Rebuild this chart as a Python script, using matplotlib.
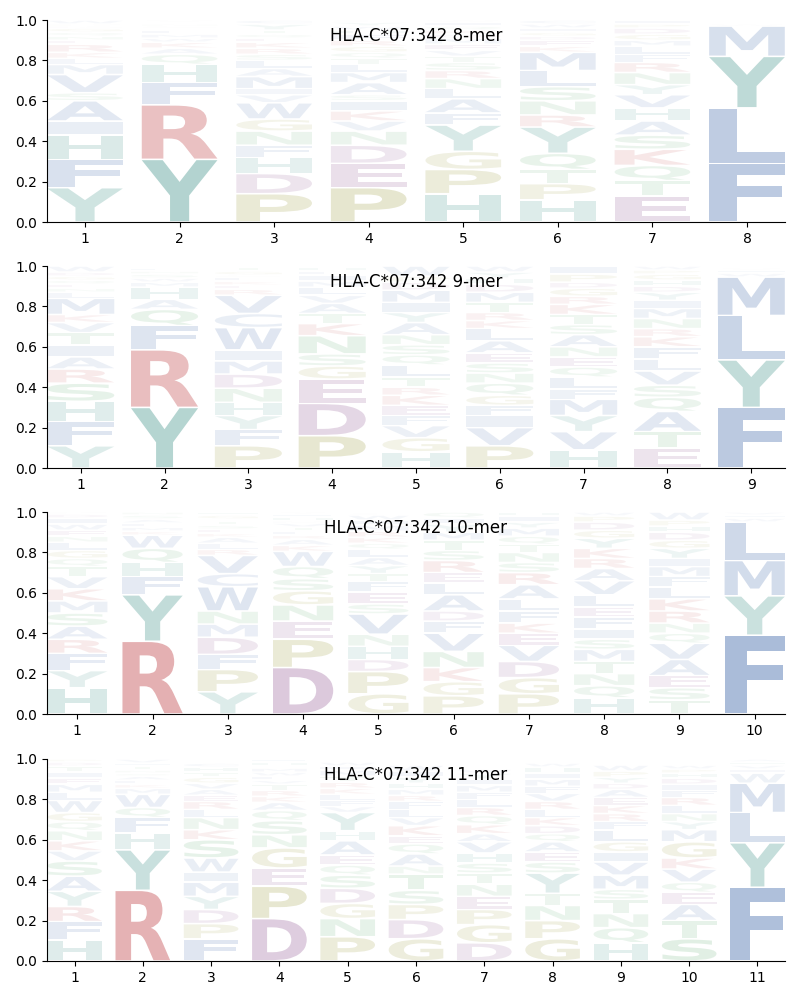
import matplotlib
matplotlib.use("Agg")
import matplotlib.pyplot as plt
from matplotlib.textpath import TextPath
from matplotlib.font_manager import FontProperties
from matplotlib.patches import PathPatch
from matplotlib.transforms import Affine2D

allele = "HLA-C*07:342"

# letters per position (bottom to top) and their heights
letters_8 = ["YFHIASVMLKRENQGDPW", "YRFHQAKWMLISNTV", "PDHFNGWVIMALSRKEQTYC",
             "PEDNVKISAMLTQGRFHWYC", "HPGYFALNRSTVEMDKQIW", "HPTQYRNSLMKEDGIWC",
             "ETQKSAHVYNRFLMGDPI", "FLYMWIVH"]
heights_8 = [
    [.17, .14, .12, .07, .10, .04, .09, .05, .03, .03, .04, .02, .02, .02, .02, .01, .01, .02],
    [.31, .27, .11, .09, .05, .03, .03, .02, .02, .02, .01, .01, .01, .01, .01],
    [.14, .10, .08, .06, .07, .06, .08, .04, .03, .06, .04, .04, .03, .03, .03, .02, .02, .02, .03, .02],
    [.17, .12, .09, .07, .05, .05, .05, .03, .06, .05, .04, .03, .03, .03, .03, .03, .02, .02, .02, .01],
    [.14, .12, .09, .13, .06, .07, .05, .05, .04, .04, .03, .03, .03, .03, .02, .02, .02, .02, .01],
    [.11, .08, .07, .08, .13, .06, .07, .07, .08, .09, .03, .03, .02, .02, .02, .02, .02],
    [.13, .075, .075, .08, .07, .07, .065, .065, .05, .06, .05, .04, .04, .03, .03, .03, .02, .02],
    [.29, .275, .255, .15, .01, .01, .005, .005],
]

letters_9 = ["YFHSRAITVKMLNEQGDW", "YRFQAHMWSNLT", "PFYHNDMIWCVREKLSGT",
             "PDEGSNKTAVLMIFHW", "HGVFEKRTLQSNAYIMDPW", "PVIFGQNSEALKRTMDHYW",
             "HVYMFLQENASTKRGDPI", "ETAQSVLFKRNMIYDHGPW", "FYLMWIVH"]
heights_9 = [
    [.11, .12, .10, .09, .07, .06, .06, .06, .05, .04, .08, .03, .02, .02, .02, .02, .02, .03],
    [.30, .285, .12, .08, .05, .06, .025, .02, .02, .015, .015, .01],
    [.11, .08, .07, .065, .07, .07, .065, .055, .11, .07, .09, .03, .02, .02, .02, .01, .02, .02],
    [.16, .16, .12, .065, .06, .09, .06, .05, .05, .04, .04, .03, .03, .02, .02, .005],
    [.08, .07, .06, .05, .05, .05, .04, .05, .06, .05, .05, .05, .06, .05, .05, .06, .04, .03, .05],
    [.11, .09, .06, .05, .05, .06, .05, .05, .05, .06, .06, .04, .04, .05, .05, .04, .03, .03, .03],
    [.09, .09, .08, .08, .05, .06, .05, .05, .05, .06, .05, .05, .05, .04, .04, .03, .04, .04],
    [.10, .08, .10, .07, .06, .07, .06, .06, .05, .04, .05, .05, .04, .04, .03, .03, .03, .02, .02],
    [.30, .235, .22, .19, .02, .015, .01, .01],
]

letters_10 = ["HYFRASMKVTQGLNEWIDP", "RYFHQWKMLASN", "YPFDMNWCVRLAKESTIGH",
              "DPENGSQWKARLTVMHFY", "GPDHNVSEFTYALQKRMIWC", "PGKNVFDALERSTMYIQ",
              "PGDVEKFLARSNTQMYIH", "HQNTMSIFELVARKYGDPW", "TSEAVQNRKLFMIYGDHPW",
              "FYMLWIV"]
heights_10 = [
    [.13, .085, .085, .07, .065, .065, .06, .06, .06, .05, .04, .04, .04, .03, .03, .03, .03, .02, .01],
    [.36, .23, .09, .07, .07, .065, .02, .02, .02, .02, .02, .015],
    [.11, .11, .075, .085, .065, .065, .12, .065, .09, .03, .03, .03, .02, .02, .02, .02, .01, .02, .015],
    [.23, .14, .09, .08, .07, .06, .06, .075, .03, .03, .02, .02, .02, .02, .01, .02, .015, .01],
    [.10, .11, .06, .065, .06, .10, .05, .06, .05, .04, .04, .04, .04, .03, .03, .03, .03, .025, .025, .01],
    [.09, .07, .07, .08, .09, .06, .05, .08, .06, .05, .06, .05, .05, .04, .04, .03, .03],
    [.10, .08, .08, .08, .06, .05, .06, .06, .07, .06, .05, .05, .04, .04, .04, .03, .03, .02],
    [.08, .06, .06, .06, .06, .05, .05, .06, .05, .06, .07, .06, .05, .05, .05, .04, .04, .03, .02],
    [.07, .06, .06, .08, .08, .05, .05, .06, .06, .06, .05, .05, .04, .05, .04, .04, .03, .03, .04],
    [.39, .195, .175, .19, .02, .015, .015],
]

letters_11 = ["HFRYASVKNQGWLMEITDP", "RYHFQWMKLASNTIV", "FPDYMIWSKNLREAVGTHC",
              "DPEGNSQAKRTVLWMIHFY", "PNGDSQEAHYVFLKRTMIW", "GDPSTNAQEKVLFRMHYIW",
              "DGPENTSHVAKQRLFMIYW", "GPNTYSEAQDKLRVFMIHW", "HQNTSMVIGLFRKEADYPW",
              "STAEQVKGMYNLRFIDHPW", "FYLMWIVHA"]
heights_11 = [
    [.105, .09, .075, .075, .075, .075, .05, .05, .05, .045, .045, .06, .04, .04, .03, .03, .03, .02, .015],
    [.35, .20, .085, .075, .05, .065, .03, .02, .02, .02, .015, .015, .02, .015, .02],
    [.11, .075, .07, .065, .07, .05, .07, .09, .05, .06, .04, .04, .03, .03, .03, .03, .025, .025, .02],
    [.21, .16, .09, .10, .065, .07, .05, .04, .03, .03, .03, .02, .02, .02, .02, .01, .02, .015, .01],
    [.12, .09, .075, .075, .065, .05, .05, .07, .05, .09, .03, .03, .03, .03, .03, .03, .03, .02, .02],
    [.11, .095, .075, .07, .08, .04, .06, .05, .04, .05, .04, .04, .04, .03, .03, .03, .03, .03, .03],
    [.09, .09, .075, .065, .06, .055, .05, .05, .055, .04, .045, .045, .04, .04, .035, .035, .03, .03, .02],
    [.11, .09, .075, .06, .10, .055, .05, .05, .04, .04, .04, .04, .04, .04, .035, .035, .03, .03, .02],
    [.09, .075, .07, .07, .05, .07, .065, .05, .05, .06, .04, .04, .04, .04, .04, .03, .03, .03, .03],
    [.11, .09, .08, .06, .05, .065, .055, .08, .06, .04, .04, .04, .04, .035, .03, .03, .025, .02, .02],
    [.365, .22, .15, .145, .05, .02, .02, .015, .015],
]

colors = {}
for aa in "FLAVIMWC":
    colors[aa] = "#4c72b0"
for aa in "YH":
    colors[aa] = "#3d9187"
for aa in "RK":
    colors[aa] = "#c44e52"
for aa in "DE":
    colors[aa] = "#8e5391"
for aa in "PG":
    colors[aa] = "#9a9a3a"
for aa in "STNQ":
    colors[aa] = "#55a868"

font = FontProperties(family="DejaVu Sans", weight="bold")


def draw_letter(ax, ch, x, y0, h, width=0.8):
    path = TextPath((0, 0), ch, size=1, prop=font)
    ext = path.get_extents()
    pad = 0.004
    top = y0 + h - pad
    bot = y0 + pad
    if top <= bot:
        return
    tr = (Affine2D().translate(-ext.x0, -ext.y0)
          .scale(width / ext.width, (top - bot) / ext.height)
          .translate(x - width / 2, bot))
    alpha = min(1.0, h ** 0.8)
    patch = PathPatch(tr.transform_path(path), facecolor=colors[ch],
                      edgecolor="none", alpha=alpha)
    ax.add_patch(patch)


panels = [(8, letters_8, heights_8), (9, letters_9, heights_9),
          (10, letters_10, heights_10), (11, letters_11, heights_11)]
bottoms = [0.778, 0.532, 0.286, 0.039]

fig = plt.figure(figsize=(8, 10), dpi=100)
for (n, letters, heights), b in zip(panels, bottoms):
    ax = fig.add_axes([0.059, b, 0.922, 0.202])
    for i in range(n):
        y = 0.0
        for ch, h in zip(letters[i], heights[i]):
            draw_letter(ax, ch, i + 1, y, h)
            y += h
    ax.set_xlim(0.6, n + 0.4)
    ax.set_ylim(0, 1)
    ax.set_xticks(range(1, n + 1))
    ax.set_yticks([0, 0.2, 0.4, 0.6, 0.8, 1.0])
    ax.spines["top"].set_visible(False)
    ax.spines["right"].set_visible(False)
    ax.text(0.5, 0.92, f"{allele} {n}-mer", transform=ax.transAxes,
            ha="center", va="center", fontsize=12)

fig.savefig("out.png", dpi=100)
